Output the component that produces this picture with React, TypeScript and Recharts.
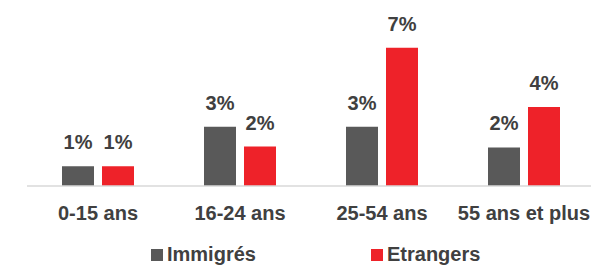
import React from "react";
import { BarChart, Bar, XAxis, YAxis, LabelList, Legend } from "recharts";

const categories = ["0-15 ans", "16-24 ans", "25-54 ans", "55 ans et plus"];
const immigres = [1, 3, 3, 1.95];
const etrangers = [1, 2, 7, 4];
const labelsImmigres = ["1%", "3%", "3%", "2%"];
const labelsEtrangers = ["1%", "2%", "7%", "4%"];

const data = categories.map((c, i) => ({
  name: c,
  immigres: immigres[i],
  etrangers: etrangers[i],
  li: labelsImmigres[i],
  le: labelsEtrangers[i],
}));

const GRAY = "#595959";
const RED = "#EE2229";
const TEXT = "#404040";
const FONT = "'Liberation Sans', Arial, sans-serif";

const legendItems = [
  { label: "Immigrés", color: GRAY, left: 151 },
  { label: "Etrangers", color: RED, left: 371 },
];

const LegendContent = () => (
  <div style={{ position: "relative", width: 600, height: 26 }}>
    {legendItems.map((it) => (
      <div
        key={it.label}
        style={{
          position: "absolute",
          left: it.left,
          top: 0,
          display: "flex",
          alignItems: "center",
          fontFamily: FONT,
          fontWeight: 700,
          fontSize: 20,
          color: TEXT,
          lineHeight: "26px",
        }}
      >
        <span
          style={{
            display: "inline-block",
            width: 12,
            height: 12,
            background: it.color,
            marginRight: 4,
            marginTop: 2,
          }}
        />
        {it.label}
      </div>
    ))}
  </div>
);

export default function App() {
  return (
    <div style={{ position: "absolute", left: 0, top: 0, width: 600, height: 265, background: "#fff" }}>
      <BarChart
        width={600}
        height={265}
        data={data}
        margin={{ top: 28, right: 5, left: 27, bottom: 0 }}
        barSize={32}
        barGap={8}
      >
        <XAxis
          dataKey="name"
          axisLine={{ stroke: "#D9D9D9", strokeWidth: 1.5 }}
          tickLine={false}
          tickSize={0}
          tickMargin={20}
          height={79}
          interval={0}
          tick={{ fill: TEXT, fontSize: 20, fontWeight: 700, fontFamily: FONT }}
        />
        <YAxis hide domain={[0, 8]} />
        <Legend
          verticalAlign="middle"
          layout="horizontal"
          content={<LegendContent />}
          wrapperStyle={{ top: 241, left: 0, width: 600 }}
        />
        <Bar dataKey="immigres" name="Immigrés" fill={GRAY} isAnimationActive={false}>
          <LabelList
            dataKey="li"
            position="top"
            offset={17}
            style={{ fill: TEXT, fontSize: 20, fontWeight: 700, fontFamily: FONT }}
          />
        </Bar>
        <Bar dataKey="etrangers" name="Etrangers" fill={RED} isAnimationActive={false}>
          <LabelList
            dataKey="le"
            position="top"
            offset={17}
            style={{ fill: TEXT, fontSize: 20, fontWeight: 700, fontFamily: FONT }}
          />
        </Bar>
      </BarChart>
    </div>
  );
}
